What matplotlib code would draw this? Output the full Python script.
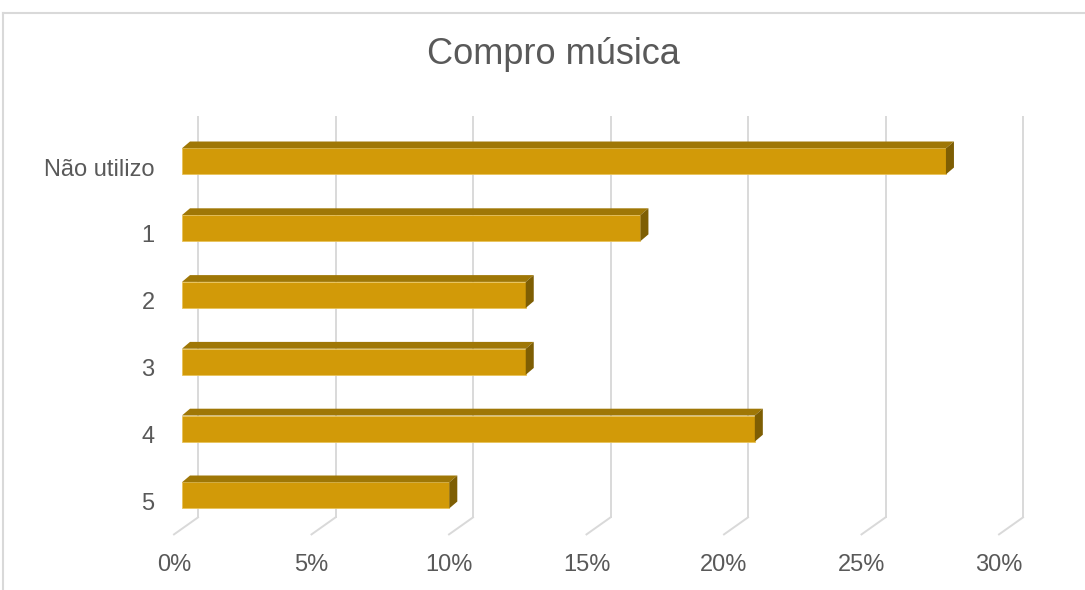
import matplotlib
matplotlib.use("Agg")
import matplotlib.pyplot as plt
from matplotlib.patches import Polygon
from matplotlib.lines import Line2D

# dados (72 respostas)
categorias = ["Não utilizo", "1", "2", "3", "4", "5"]
percentagens = [27.78, 16.67, 12.5, 12.5, 20.83, 9.72]
ticks_x = [0, 5, 10, 15, 20, 25, 30]
titulo = "Compro música"

cor_frente = "#D29A08"
cor_topo = "#9F7706"
cor_lado = "#7E5E03"
cor_texto = "#595959"
cor_grelha = "#D9D9D9"

plt.rcParams['font.family'] = ['Liberation Sans', 'DejaVu Sans']

fig = plt.figure(figsize=(10.85, 5.9), dpi=100)
ax = fig.add_axes([174/1085, 55.6/590, 825/1085, 400.8/590])
ax.set_xlim(0, 30)
ax.set_ylim(5.5, -0.5)

def px2dados(dx, dy):
    # deslocamento em pixels -> unidades de dados
    o = ax.transData.transform((0, 0))
    sx = ax.transData.transform((1, 0))[0] - o[0]
    sy = ax.transData.transform((0, 1))[1] - o[1]
    return dx / sx, dy / sy

# profundidade da parede de fundo
bx, by = px2dados(24, 17)
y0, y1 = ax.get_ylim()
for t in ticks_x:
    ax.plot([t, t + bx], [y0, y0 + by], color=cor_grelha, lw=1.4, clip_on=False, zorder=1)
    ax.plot([t + bx, t + bx], [y0 + by, y1 + by], color=cor_grelha, lw=1.4, clip_on=False, zorder=1)

# barras 3D: face da frente a 1/3 da profundidade
ex, ey = px2dados(8, 5.67)
tx, ty = px2dados(8, 6.8)
h = 0.39
for i, v in enumerate(percentagens):
    yc = i + ey
    ax.barh(yc, v, left=ex, height=h, color=cor_frente, edgecolor="#E9C35A", lw=0.6, zorder=3, clip_on=False)
    topo = [(ex, yc - h/2), (ex + v, yc - h/2), (ex + v + tx, yc - h/2 + ty), (ex + tx, yc - h/2 + ty)]
    lado = [(ex + v, yc - h/2), (ex + v + tx, yc - h/2 + ty), (ex + v + tx, yc + h/2 + ty), (ex + v, yc + h/2)]
    ax.add_patch(Polygon(topo, closed=True, facecolor=cor_topo, edgecolor="none", zorder=3, clip_on=False))
    ax.add_patch(Polygon(lado, closed=True, facecolor=cor_lado, edgecolor="none", zorder=3, clip_on=False))

ax.set_xticks(ticks_x)
ax.set_xticklabels([f"{t}%" for t in ticks_x])
ax.set_yticks(range(len(categorias)))
ax.set_yticklabels(categorias)
ax.tick_params(axis="x", length=0, pad=14, labelsize=17, labelcolor=cor_texto)
ax.tick_params(axis="y", length=0, pad=14, labelsize=17, labelcolor=cor_texto)
for s in ax.spines.values():
    s.set_visible(False)
ax.patch.set_alpha(0)

fig.text(553/1085, 1 - 55/590, titulo, ha="center", va="center", fontsize=26, color=cor_texto)

# moldura da área do gráfico
fig.add_artist(Line2D([3/1085, 1], [1 - 12.5/590, 1 - 12.5/590], transform=fig.transFigure, color=cor_grelha, lw=1.5))
fig.add_artist(Line2D([3/1085, 3/1085], [0, 1 - 12.5/590], transform=fig.transFigure, color=cor_grelha, lw=1.5))

fig.savefig("out.png", dpi=100)
